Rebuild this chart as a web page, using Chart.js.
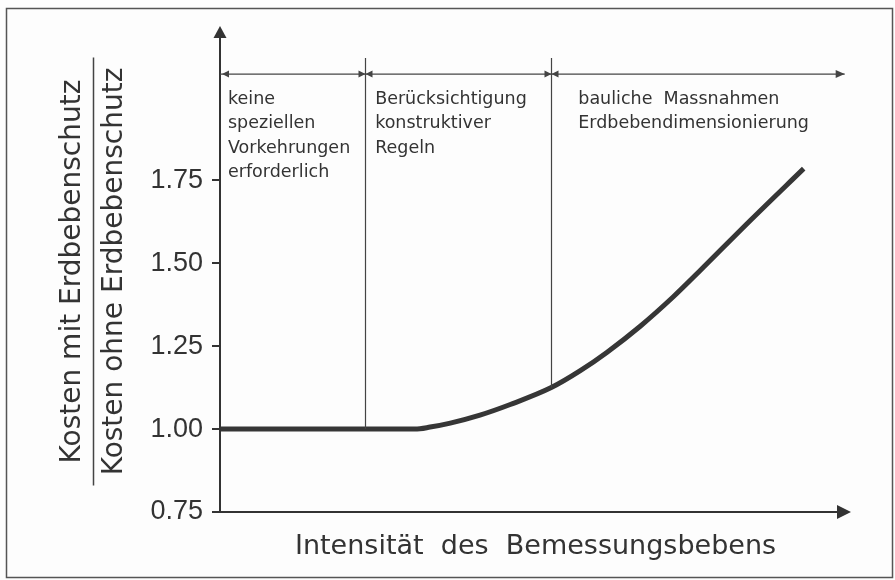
<!DOCTYPE html>
<html>
<head>
<meta charset="utf-8">
<script src="https://cdn.jsdelivr.net/npm/chart.js@4/dist/chart.umd.min.js"></script>
<style>
    html, body { margin: 0; padding: 0; background: #fdfdfd; }
    #wrap { position: relative; width: 895px; height: 580px; }
</style>
</head>
<body>
<div id="wrap"><canvas id="costChart"></canvas></div>
<script>
// intensity of design earthquake (arbitrary units) vs. cost ratio
var intensity = [0, 1.5, 2.3, 3.09, 3.33, 3.65, 4.12, 4.60, 5.25, 5.71, 6.13, 6.66, 7.18, 7.61, 8.40, 9.25];
var costRatio = [1.0, 1.0, 1.0, 1.0, 1.006, 1.018, 1.042, 1.074, 1.125, 1.176, 1.231, 1.31, 1.398, 1.478, 1.628, 1.785];
var yTicks = [0.75, 1.0, 1.25, 1.5, 1.75];
var boundaries = [2.3, 5.25];
var regionLabels = [
    ['keine', 'speziellen', 'Vorkehrungen', 'erforderlich'],
    ['Berücksichtigung', 'konstruktiver', 'Regeln'],
    ['bauliche  Massnahmen', 'Erdbebendimensionierung']
];

(function () {
    'use strict';

    var INK = '#333333';

    function valueAt(x) {
        for (var i = 1; i < intensity.length; i++) {
            if (x <= intensity[i]) {
                var t = (x - intensity[i - 1]) / (intensity[i] - intensity[i - 1]);
                return costRatio[i - 1] + t * (costRatio[i] - costRatio[i - 1]);
            }
        }
        return costRatio[costRatio.length - 1];
    }

    function arrow(ctx, x, y, dir, len, half) {
        // dir: 'l','r','u'
        ctx.beginPath();
        ctx.moveTo(x, y);
        if (dir === 'l') { ctx.lineTo(x + len, y - half); ctx.lineTo(x + len, y + half); }
        if (dir === 'r') { ctx.lineTo(x - len, y - half); ctx.lineTo(x - len, y + half); }
        if (dir === 'u') { ctx.lineTo(x - half, y + len); ctx.lineTo(x + half, y + len); }
        ctx.closePath();
        ctx.fill();
    }

    var drawingPlugin = {
        id: 'drawing',
        afterDatasetsDraw: function (chart) {
            var ctx = chart.ctx;
            var area = chart.chartArea;
            var xs = chart.scales.x, ys = chart.scales.y;
            ctx.save();
            ctx.strokeStyle = INK;
            ctx.fillStyle = INK;

            // outer frame
            ctx.lineWidth = 1.5;
            ctx.strokeStyle = '#555';
            ctx.strokeRect(6.5, 8.5, 886, 569);
            ctx.strokeStyle = INK;

            // axes with arrows
            ctx.lineWidth = 2;
            ctx.beginPath();
            ctx.moveTo(area.left, area.bottom);
            ctx.lineTo(area.left, area.top);
            ctx.moveTo(area.left, area.bottom);
            ctx.lineTo(area.right - 6, area.bottom);
            ctx.stroke();
            arrow(ctx, area.left, area.top - 5, 'u', 12, 6.5);
            arrow(ctx, area.right, area.bottom, 'r', 14, 7);

            // region boundaries
            var dimY = ys.getPixelForValue(2.07);
            ctx.lineWidth = 1.2;
            ctx.strokeStyle = '#444';
            boundaries.forEach(function (b) {
                var px = Math.round(xs.getPixelForValue(b)) + 0.5;
                ctx.beginPath();
                ctx.moveTo(px, dimY - 16);
                ctx.lineTo(px, ys.getPixelForValue(valueAt(b)));
                ctx.stroke();
            });

            // dimension line
            var right = xs.getPixelForValue(9.9);
            ctx.beginPath();
            ctx.moveTo(area.left, dimY);
            ctx.lineTo(right, dimY);
            ctx.stroke();
            ctx.fillStyle = '#444';
            arrow(ctx, area.left + 2, dimY, 'l', 7, 3.5);
            boundaries.forEach(function (b) {
                var px = Math.round(xs.getPixelForValue(b)) + 0.5;
                arrow(ctx, px, dimY, 'r', 7, 3.5);
                arrow(ctx, px, dimY, 'l', 7, 3.5);
            });
            arrow(ctx, right, dimY, 'r', 9, 4);

            // region labels
            ctx.fillStyle = INK;
            ctx.font = '17.5px "DejaVu Sans"';
            ctx.textBaseline = 'alphabetic';
            var starts = [area.left + 8, xs.getPixelForValue(boundaries[0]) + 10, xs.getPixelForValue(boundaries[1]) + 27];
            regionLabels.forEach(function (lines, i) {
                lines.forEach(function (t, j) {
                    ctx.fillText(t, starts[i], 104 + j * 24.4);
                });
            });

            // fraction bar of the y-axis title
            var midY = (area.top + area.bottom) / 2;
            ctx.strokeStyle = '#444';
            ctx.lineWidth = 1.5;
            ctx.beginPath();
            ctx.moveTo(93.5, midY - 214);
            ctx.lineTo(93.5, midY + 214);
            ctx.stroke();

            ctx.restore();
        }
    };

    var points = intensity.map(function (x, i) { return { x: x, y: costRatio[i] }; });

    new Chart(document.getElementById('costChart'), {
        type: 'line',
        data: {
            datasets: [{
                data: points,
                borderColor: '#363636',
                borderWidth: 5,
                pointRadius: 0,
                cubicInterpolationMode: 'monotone',
                fill: false,
            }],
        },
        options: {
            responsive: true,
            maintainAspectRatio: false,
            animation: false,
            layout: { padding: { top: 31, right: 44, bottom: 0, left: 0 } },
            plugins: {
                legend: { display: false },
                tooltip: { enabled: false },
            },
            scales: {
                x: {
                    type: 'linear',
                    min: 0,
                    max: 10,
                    grid: { display: false },
                    border: { display: false },
                    ticks: { display: false },
                    title: {
                        display: true,
                        text: 'Intensität  des  Bemessungsbebens',
                        color: INK,
                        font: { family: 'DejaVu Sans', size: 27, lineHeight: 1.2 },
                        padding: { top: 0, bottom: 17 },
                    },
                    afterFit: function (s) { s.height = 68; },
                },
                y: {
                    type: 'linear',
                    min: 0.75,
                    max: 2.2,
                    afterBuildTicks: function (s) {
                        s.ticks = yTicks.map(function (v) { return { value: v }; });
                    },
                    grid: { drawOnChartArea: false, drawTicks: true, tickLength: 8, color: INK, lineWidth: 2 },
                    border: { display: false },
                    ticks: {
                        color: INK,
                        padding: 9,
                        font: { family: 'Liberation Sans', size: 27 },
                        callback: function (v) { return v.toFixed(2); },
                    },
                    title: {
                        display: true,
                        text: ['Kosten mit Erdbebenschutz', 'Kosten ohne Erdbebenschutz'],
                        color: INK,
                        font: { family: 'DejaVu Sans', size: 28, lineHeight: 1.5 },
                        padding: { top: 52, bottom: 0 },
                    },
                    afterFit: function (s) { s.width = 220; },
                },
            },
        },
        plugins: [drawingPlugin],
    });
})();
</script>
</body>
</html>
